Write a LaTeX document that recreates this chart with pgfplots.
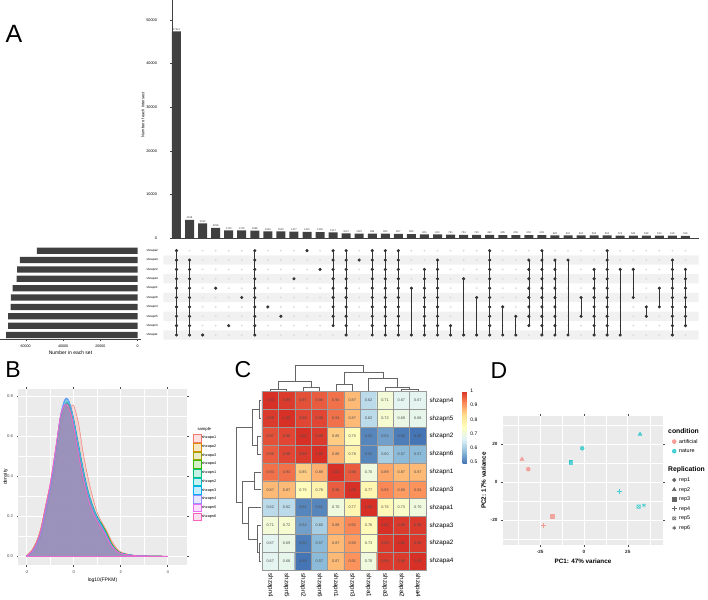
\documentclass[border=0pt]{standalone}
\usepackage{fontspec}
\setmainfont{Liberation Sans}
\usepackage{pgfplots}
\pgfplotsset{compat=1.18}
\usepackage{pgfplotstable}
\pgfkeys{/pgf/number format/assume math mode=true}
\newcommand\fs[1]{\fontsize{#1}{#1}\selectfont}
\definecolor{barc}{HTML}{404040}
\definecolor{ggbg}{HTML}{EBEBEB}
\definecolor{band}{HTML}{F1F1F1}
\definecolor{inact}{HTML}{DDDDDD}
\definecolor{c1}{HTML}{F8766D}
\definecolor{c2}{HTML}{D89000}
\definecolor{c3}{HTML}{A3A500}
\definecolor{c4}{HTML}{39B600}
\definecolor{c5}{HTML}{00BF7D}
\definecolor{c6}{HTML}{00BFC4}
\definecolor{c7}{HTML}{00B0F6}
\definecolor{c8}{HTML}{9590FF}
\definecolor{c9}{HTML}{E76BF3}
\definecolor{c10}{HTML}{FF62BC}
\definecolor{cn}{HTML}{00BFC4}
\pgfdeclareplotmark{boxx}{%
  \pgfpathrectangle{\pgfqpoint{-\pgfplotmarksize}{-\pgfplotmarksize}}{\pgfqpoint{2\pgfplotmarksize}{2\pgfplotmarksize}}%
  \pgfpathmoveto{\pgfqpoint{-\pgfplotmarksize}{-\pgfplotmarksize}}\pgfpathlineto{\pgfqpoint{\pgfplotmarksize}{\pgfplotmarksize}}%
  \pgfpathmoveto{\pgfqpoint{-\pgfplotmarksize}{\pgfplotmarksize}}\pgfpathlineto{\pgfqpoint{\pgfplotmarksize}{-\pgfplotmarksize}}%
  \pgfusepathqstroke}
\pgfplotsset{dens/.style={smooth, draw=#1, fill=#1, fill opacity=0.22, line width=0.45pt}}

\pgfplotstableread{
x a1 a2 a3 a4 n1 n2 n3 n4 n5 n6
-2.0 0.000 0.004 0.003 0.003 0.002 0.002 0.002 0.002 0.003 0.004
-1.8 0.012 0.028 0.024 0.022 0.018 0.016 0.016 0.017 0.022 0.026
-1.6 0.045 0.070 0.064 0.060 0.055 0.050 0.050 0.052 0.062 0.068
-1.4 0.100 0.140 0.132 0.126 0.118 0.112 0.112 0.115 0.130 0.138
-1.2 0.200 0.250 0.242 0.236 0.228 0.222 0.222 0.226 0.245 0.252
-1.0 0.310 0.360 0.352 0.346 0.340 0.338 0.340 0.344 0.362 0.368
-0.8 0.440 0.510 0.502 0.497 0.492 0.495 0.498 0.502 0.515 0.518
-0.6 0.610 0.670 0.665 0.662 0.660 0.670 0.675 0.680 0.680 0.678
-0.5 0.670 0.720 0.717 0.716 0.716 0.730 0.735 0.740 0.730 0.725
-0.4 0.720 0.750 0.750 0.752 0.755 0.772 0.776 0.780 0.758 0.752
-0.3 0.745 0.760 0.762 0.766 0.772 0.788 0.790 0.792 0.762 0.757
-0.2 0.745 0.745 0.750 0.756 0.764 0.775 0.776 0.776 0.745 0.740
-0.1 0.750 0.710 0.716 0.724 0.734 0.738 0.738 0.736 0.705 0.700
0.0 0.755 0.660 0.668 0.676 0.688 0.684 0.682 0.678 0.650 0.645
0.2 0.670 0.530 0.540 0.550 0.566 0.560 0.556 0.550 0.515 0.510
0.4 0.520 0.410 0.418 0.428 0.442 0.438 0.434 0.428 0.395 0.390
0.6 0.400 0.310 0.316 0.324 0.336 0.330 0.326 0.322 0.296 0.292
0.8 0.300 0.240 0.244 0.250 0.258 0.254 0.250 0.246 0.226 0.222
1.0 0.220 0.190 0.192 0.196 0.200 0.196 0.193 0.190 0.175 0.172
1.2 0.170 0.160 0.160 0.160 0.160 0.155 0.152 0.150 0.138 0.136
1.4 0.130 0.120 0.118 0.116 0.114 0.110 0.108 0.106 0.096 0.095
1.6 0.080 0.070 0.068 0.066 0.064 0.062 0.060 0.058 0.054 0.053
1.8 0.045 0.036 0.035 0.034 0.033 0.032 0.031 0.030 0.028 0.028
2.0 0.022 0.018 0.017 0.017 0.016 0.016 0.016 0.015 0.014 0.014
2.5 0.006 0.005 0.005 0.005 0.005 0.006 0.006 0.006 0.004 0.004
3.0 0.002 0.002 0.002 0.002 0.002 0.002 0.002 0.002 0.002 0.002
4.0 0.000 0.000 0.000 0.000 0.000 0.000 0.000 0.000 0.000 0.001
}\dens

\pgfplotstableread{
x y z
1 1 1.00
2 1 0.99
3 1 0.97
4 1 0.96
5 1 0.94
6 1 0.87
7 1 0.62
8 1 0.71
9 1 0.67
10 1 0.67
1 2 0.99
2 2 1.00
3 2 0.98
4 2 0.98
5 2 0.94
6 2 0.87
7 2 0.62
8 2 0.72
9 2 0.69
10 2 0.68
1 3 0.97
2 3 0.98
3 3 1.00
4 3 0.99
5 3 0.85
6 3 0.75
7 3 0.51
8 3 0.54
9 3 0.50
10 3 0.49
1 4 0.96
2 4 0.98
3 4 0.99
4 4 1.00
5 4 0.88
6 4 0.78
7 4 0.51
8 4 0.60
9 4 0.57
10 4 0.57
1 5 0.94
2 5 0.94
3 5 0.85
4 5 0.88
5 5 1.00
6 5 0.96
7 5 0.70
8 5 0.89
9 5 0.87
10 5 0.87
1 6 0.87
2 6 0.87
3 6 0.75
4 6 0.78
5 6 0.96
6 6 1.00
7 6 0.77
8 6 0.92
9 6 0.90
10 6 0.91
1 7 0.62
2 7 0.62
3 7 0.51
4 7 0.51
5 7 0.70
6 7 0.77
7 7 1.00
8 7 0.76
9 7 0.73
10 7 0.70
1 8 0.71
2 8 0.72
3 8 0.54
4 8 0.60
5 8 0.89
6 8 0.92
7 8 0.76
8 8 1.00
9 8 0.99
10 8 0.99
1 9 0.67
2 9 0.69
3 9 0.50
4 9 0.57
5 9 0.87
6 9 0.90
7 9 0.73
8 9 0.99
9 9 1.00
10 9 0.99
1 10 0.67
2 10 0.68
3 10 0.49
4 10 0.57
5 10 0.87
6 10 0.91
7 10 0.70
8 10 0.99
9 10 0.99
10 10 1.00
}\hm

\pgfplotstableread{
p h
1 0
1 1.7
2 1.7
2 0
nan nan
3 0
3 3.7
4 3.7
4 0
nan nan
1.5 1.7
1.5 9
3.5 9
3.5 3.7
nan nan
5 0
5 6.7
6 6.7
6 0
nan nan
9 0
9 1.7
10 1.7
10 0
nan nan
8 0
8 3.7
9.5 3.7
9.5 1.7
nan nan
7 0
7 12.4
8.75 12.4
8.75 3.7
nan nan
5.5 6.7
5.5 18.4
7.875 18.4
7.875 12.4
nan nan
2.5 9
2.5 25
6.6875 25
6.6875 18.4
}\dendro

\begin{document}
\begin{tikzpicture}
\path[use as bounding box] (0pt,0pt) rectangle (708pt,-599pt);

% ---------- A: intersection sizes ----------
\begin{axis}[at={(172.45pt,-238pt)}, anchor=south west, scale only axis,
  width=526.05pt, height=238pt, xmin=0.69, xmax=41, ymin=0, ymax=54590,
  axis x line=bottom, axis y line=left, axis line style={-, line width=0.5pt, black!75},
  xtick=\empty, ytick={0,10000,20000,30000,40000,50000}, scaled y ticks=false,
  /pgf/number format/1000 sep={},
  yticklabel style={font=\fs{3.8}, xshift=-10pt},
  tick align=outside, major tick length=2pt, tick style={black!75, line width=0.4pt},
  ylabel={Number of each Intersect},
  ylabel style={font=\fs{4}, at={(axis description cs:-0.056,0.517)}, anchor=center},
  ybar, bar width=9pt, clip=false,
  nodes near coords, nodes near coords style={font=\fs{2.6}, text=black!80, inner sep=1pt}]
\addplot[fill=barc, draw=none] coordinates {
(1,47421)(2,4156)(3,3332)(4,2298)(5,1733)(6,1729)(7,1698)(8,1526)(9,1500)(10,1477)
(11,1421)(12,1363)(13,1317)(14,1047)(15,1022)(16,986)(17,980)(18,967)(19,895)(20,825)
(21,813)(22,791)(23,734)(24,732)(25,692)(26,685)(27,655)(28,652)(29,639)(30,629)
(31,601)(32,600)(33,592)(34,592)(35,572)(36,560)(37,538)(38,530)(39,518)(40,516)};
\end{axis}

% ---------- A: matrix ----------
\begin{axis}[at={(163.45pt,-246pt)}, anchor=north west, scale only axis,
  width=535.05pt, height=93.7pt, xmin=0, xmax=41, ymin=0.5, ymax=10.5, y dir=reverse,
  axis line style={draw=none}, xtick=\empty, ytick={1,2,3,4,5,6,7,8,9,10},
  yticklabels={shzapa2,shzapa3,shzapn2,shzapa4,shzapn1,shzapn6,shzapn4,shzapn5,shzapn3,shzapa1},
  major tick length=0pt, yticklabel style={font=\fs{3}, xshift=-2pt},
  clip=false, unbounded coords=jump]
\addplot[xbar, bar width=9.37pt, fill=band, draw=none] coordinates {(41,2)(41,4)(41,6)(41,8)(41,10)};
\addplot[inact, line width=2.2pt, line cap=round, dash pattern=on 0pt off 13.05pt] coordinates {
(1,1)(40.05,1)(1,nan)(1,2)(40.05,2)(1,nan)(1,3)(40.05,3)(1,nan)(1,4)(40.05,4)(1,nan)(1,5)(40.05,5)(1,nan)
(1,6)(40.05,6)(1,nan)(1,7)(40.05,7)(1,nan)(1,8)(40.05,8)(1,nan)(1,9)(40.05,9)(1,nan)(1,10)(40.05,10)};
\addplot[black!80, line width=0.7pt, mark=*, mark size=1.2pt, mark options={fill=black!80, draw=black!80}] coordinates {
(1,1)(1,2)(1,3)(1,4)(1,5)(1,6)(1,7)(1,8)(1,9)(1,10)(1,nan)
(2,2)(2,3)(2,4)(2,5)(2,6)(2,7)(2,8)(2,9)(2,10)(2,nan)
(3,10)(3,nan)(4,5)(4,nan)(5,9)(5,nan)(6,6)(6,nan)
(7,1)(7,2)(7,3)(7,4)(7,5)(7,6)(7,7)(7,8)(7,9)(7,10)(7,nan)
(8,7)(8,nan)(9,8)(9,nan)(10,4)(10,nan)(11,1)(11,nan)(12,3)(12,nan)
(13,1)(13,2)(13,3)(13,4)(13,5)(13,6)(13,7)(13,8)(13,9)(13,nan)
(14,1)(14,2)(14,3)(14,4)(14,5)(14,6)(14,7)(14,8)(14,9)(14,10)(14,nan)
(15,2)(15,nan)
(16,1)(16,2)(16,3)(16,4)(16,5)(16,6)(16,7)(16,8)(16,9)(16,10)(16,nan)
(17,1)(17,2)(17,3)(17,4)(17,5)(17,6)(17,7)(17,8)(17,9)(17,10)(17,nan)
(18,1)(18,2)(18,3)(18,4)(18,5)(18,6)(18,7)(18,8)(18,9)(18,10)(18,nan)
(19,5)(19,10)(19,nan)
(20,3)(20,4)(20,5)(20,6)(20,7)(20,8)(20,9)(20,10)(20,nan)
(21,2)(21,3)(21,4)(21,5)(21,6)(21,7)(21,8)(21,9)(21,10)(21,nan)
(22,9)(22,10)(22,nan)(23,4)(23,10)(23,nan)(24,6)(24,10)(24,nan)
(25,1)(25,2)(25,3)(25,4)(25,5)(25,6)(25,7)(25,8)(25,9)(25,10)(25,nan)
(26,7)(26,10)(26,nan)(27,8)(27,10)(27,nan)
(28,2)(28,3)(28,4)(28,5)(28,6)(28,7)(28,8)(28,9)(28,nan)
(29,1)(29,2)(29,3)(29,4)(29,5)(29,6)(29,7)(29,8)(29,9)(29,10)(29,nan)
(30,2)(30,3)(30,4)(30,5)(30,6)(30,7)(30,8)(30,9)(30,10)(30,nan)
(31,2)(31,10)(31,nan)(32,6)(32,8)(32,nan)
(33,3)(33,4)(33,5)(33,6)(33,7)(33,8)(33,9)(33,10)(33,nan)
(34,1)(34,2)(34,3)(34,4)(34,5)(34,6)(34,7)(34,8)(34,9)(34,10)(34,nan)
(35,3)(35,10)(35,nan)(36,3)(36,6)(36,nan)(37,7)(37,8)(37,nan)(38,5)(38,7)(38,nan)
(39,2)(39,3)(39,4)(39,5)(39,6)(39,7)(39,8)(39,9)(39,10)(39,nan)
(40,3)(40,4)(40,5)(40,6)(40,7)(40,8)(40,9)};
\end{axis}

% ---------- A: set sizes ----------
\begin{axis}[at={(0pt,-246pt)}, anchor=north west, scale only axis,
  width=141pt, height=93.7pt, xmin=-1768, xmax=73780, x dir=reverse,
  ymin=0.5, ymax=10.5, y dir=reverse,
  axis x line=bottom, axis y line=none, axis line style={-, line width=0.5pt, black!75},
  ytick=\empty, xtick={0,20000,40000,60000}, scaled x ticks=false,
  /pgf/number format/1000 sep={},
  xticklabel style={font=\fs{3.6}}, tick align=outside, major tick length=1.5pt,
  tick style={black!75, line width=0.4pt},
  xlabel={Number in each set}, xlabel style={font=\fs{5}, yshift=3pt}]
\addplot[xbar, bar width=6.3pt, fill=barc, draw=none] coordinates {
(54000,1)(63100,2)(64550,3)(64900,4)(67000,5)(67900,6)(68100,7)(69400,8)(69400,9)(70450,10)};
\end{axis}

% ---------- B: density ----------
\begin{axis}[at={(18.3pt,-389pt)}, anchor=north west, scale only axis,
  width=168.4pt, height=176pt, xmin=-2.357, xmax=4.81, ymin=-0.0435, ymax=0.8365,
  axis background/.style={fill=ggbg}, grid=both,
  xtick={-2,0,2,4}, ytick={0,0.2,0.4,0.6,0.8}, minor xtick={-1,1,3}, minor ytick={0.1,0.3,0.5,0.7},
  major grid style={white, line width=0.6pt}, minor grid style={white, line width=0.3pt},
  axis line style={draw=none}, tick align=outside, major tick length=1.8pt, minor tick length=0pt,
  tick style={black!70, line width=0.4pt},
  ticklabel style={font=\fs{4.2}, text=black!70},
  yticklabel style={/pgf/number format/.cd, fixed, fixed zerofill, precision=1},
  xlabel={log10(FPKM)}, ylabel={density}, label style={font=\fs{5}},
  xlabel style={yshift=2pt},
  ylabel style={at={(axis description cs:-0.075,0.5)}, anchor=center},
  legend style={at={(1.037,0.744)}, anchor=north west, draw=none, fill=none,
    font=\fs{3.8}, row sep=0.7pt, inner sep=0pt, nodes={inner sep=0.5pt}},
  legend cell align=left,
  legend image code/.code={\draw[#1, line width=0.4pt] (0pt,-3.8pt) rectangle (7.8pt,3.8pt);}]
\addplot[dens=c1] table[x=x,y=a1]{\dens} \closedcycle; \addlegendentry{shzapa1}
\addplot[dens=c2] table[x=x,y=a2]{\dens} \closedcycle; \addlegendentry{shzapa2}
\addplot[dens=c3] table[x=x,y=a3]{\dens} \closedcycle; \addlegendentry{shzapa3}
\addplot[dens=c4] table[x=x,y=a4]{\dens} \closedcycle; \addlegendentry{shzapa4}
\addplot[dens=c5] table[x=x,y=n1]{\dens} \closedcycle; \addlegendentry{shzapn1}
\addplot[dens=c6] table[x=x,y=n2]{\dens} \closedcycle; \addlegendentry{shzapn2}
\addplot[dens=c7] table[x=x,y=n3]{\dens} \closedcycle; \addlegendentry{shzapn3}
\addplot[dens=c8] table[x=x,y=n4]{\dens} \closedcycle; \addlegendentry{shzapn4}
\addplot[dens=c9] table[x=x,y=n5]{\dens} \closedcycle; \addlegendentry{shzapn5}
\addplot[dens=c10] table[x=x,y=n6]{\dens} \closedcycle; \addlegendentry{shzapn6}
\end{axis}
\node[font=\fs{4.2}, anchor=west] at (194pt,-429pt) {sample};

% ---------- C: heatmap ----------
\begin{axis}[at={(262pt,-391.7pt)}, anchor=north west, scale only axis,
  width=164pt, height=178.3pt, xmin=0.5, xmax=10.5, ymin=0.5, ymax=10.5, y dir=reverse,
  colormap={rdylbu}{rgb255=(69,117,180) rgb255=(145,191,219) rgb255=(224,243,248) rgb255=(255,255,191) rgb255=(254,224,144) rgb255=(252,141,89) rgb255=(215,48,39)},
  point meta min=0.49, point meta max=1,
  xtick={1,2,3,4,5,6,7,8,9,10}, ytick={1,2,3,4,5,6,7,8,9,10},
  xticklabels={shzapn4,shzapn5,shzapn2,shzapn6,shzapn1,shzapn3,shzapa1,shzapa3,shzapa2,shzapa4},
  yticklabels={shzapn4,shzapn5,shzapn2,shzapn6,shzapn1,shzapn3,shzapa1,shzapa3,shzapa2,shzapa4},
  yticklabel pos=right, major tick length=0pt, minor tick length=0pt,
  minor xtick={1.5,2.5,3.5,4.5,5.5,6.5,7.5,8.5,9.5}, minor ytick={1.5,2.5,3.5,4.5,5.5,6.5,7.5,8.5,9.5},
  grid=minor, minor grid style={black!40, line width=0.5pt},
  axis line style={black!40, line width=0.5pt}, axis on top,
  xticklabel style={rotate=-90, anchor=west, font=\fs{6.3}, xshift=0pt},
  yticklabel style={font=\fs{6.3}, anchor=west},
  colorbar,
  colorbar style={at={(parent axis.north east)}, anchor=north west, xshift=28pt, yshift=0.7pt,
    width=4.3pt, height=72.3pt, ytick={0.5,0.6,0.7,0.8,0.9,1},
    yticklabel style={font=\fs{5}}, axis line style={draw=none}, major tick length=0pt},
  clip=false]
\addplot[matrix plot*, mesh/cols=10, point meta=explicit,
  nodes near coords={\pgfmathprintnumber[fixed,fixed zerofill,precision=2]{\pgfplotspointmeta}},
  nodes near coords align=center,
  every node near coord/.append style={font=\fs{3.8}, text=black!70}] table[x=x,y=y,meta=z]{\hm};
\end{axis}
\begin{axis}[at={(262pt,-390.7pt)}, anchor=south west, scale only axis, width=164pt, height=30pt,
  xmin=0.5, xmax=10.5, ymin=0, ymax=30, hide axis, clip=false, unbounded coords=jump]
\addplot[black!60, line width=0.6pt] table[x=p,y=h]{\dendro};
\end{axis}
\begin{axis}[at={(261pt,-391.7pt)}, anchor=north east, scale only axis, width=30pt, height=178.3pt,
  xmin=0, xmax=30, x dir=reverse, ymin=0.5, ymax=10.5, y dir=reverse, hide axis, clip=false, unbounded coords=jump]
\addplot[black!60, line width=0.6pt] table[x=h,y=p]{\dendro};
\end{axis}

% ---------- D: PCA ----------
\begin{axis}[at={(502.7pt,-416pt)}, anchor=north west, scale only axis,
  width=160.6pt, height=129pt, xmin=-46.4, xmax=45.3, ymin=-33.2, ymax=34.7,
  axis background/.style={fill=ggbg}, grid=both,
  xtick={-25,0,25}, ytick={-20,0,20}, minor xtick={-37.5,-12.5,12.5,37.5}, minor ytick={-30,-10,10,30},
  major grid style={white, line width=0.6pt}, minor grid style={white, line width=0.3pt},
  axis line style={draw=none}, tick align=outside, major tick length=1.8pt, minor tick length=0pt,
  tick style={black!70, line width=0.4pt},
  ticklabel style={font=\fs{4.6}\bfseries, text=black!85},
  xlabel={PC1: 47\% variance}, ylabel={PC2: 17\% variance},
  label style={font=\fs{6.3}\bfseries},
  xlabel style={yshift=2pt}, ylabel style={yshift=-2pt},
  legend style={at={(1.045,0.905)}, anchor=north west, draw=none, fill=none,
    font=\fs{5.4}, row sep=2.6pt, inner sep=0pt, nodes={inner sep=0.5pt, text height=4.6pt, text depth=1.4pt}},
  legend cell align=left,
  legend image code/.code={\path[draw=none, fill=none] (0pt,-2pt) -- (8pt,2pt); \draw[#1] plot coordinates {(3.5pt,0pt)};}]
\addplot[forget plot, only marks, mark=*, mark size=2pt, c1, opacity=0.6] coordinates {(-31.8,6.7)};
\addplot[forget plot, only marks, mark=triangle*, mark size=2.4pt, c1, opacity=0.6] coordinates {(-35.4,11.9)};
\addplot[forget plot, only marks, mark=square*, mark size=1.7pt, c1, opacity=0.6] coordinates {(-18.1,-18.1)};
\addplot[forget plot, only marks, mark=+, mark size=2.6pt, line width=0.6pt, c1, opacity=0.7] coordinates {(-23.2,-23.0)};
\addplot[forget plot, only marks, mark=*, mark size=2pt, cn, opacity=0.6] coordinates {(-1.0,17.7)};
\addplot[forget plot, only marks, mark=triangle*, mark size=2.4pt, cn, opacity=0.6] coordinates {(32.0,25.1)};
\addplot[forget plot, only marks, mark=square*, mark size=1.7pt, cn, opacity=0.6] coordinates {(-7.6,10.4)};
\addplot[forget plot, only marks, mark=+, mark size=2.6pt, line width=0.6pt, cn, opacity=0.7] coordinates {(20.2,-4.9)};
\addplot[forget plot, only marks, mark=boxx, mark size=1.7pt, line width=0.5pt, cn, opacity=0.7] coordinates {(31.2,-13.0)};
\addplot[forget plot, only marks, mark=asterisk, mark size=2pt, line width=0.6pt, cn, opacity=0.7] coordinates {(34.2,-12.3)};
\addlegendimage{empty legend}\addlegendentry{\hspace*{-11pt}\fs{6.8}\bfseries condition}
\addlegendimage{only marks, mark=*, mark size=2pt, c1, opacity=0.7}\addlegendentry{artificial}
\addlegendimage{only marks, mark=*, mark size=2pt, cn, opacity=0.7}\addlegendentry{nature}
\addlegendimage{empty legend}\addlegendentry{~}
\addlegendimage{empty legend}\addlegendentry{\hspace*{-11pt}\fs{6.8}\bfseries Replication}
\addlegendimage{only marks, mark=*, mark size=1.8pt, black!60}\addlegendentry{rep1}
\addlegendimage{only marks, mark=triangle*, mark size=2.2pt, black!60}\addlegendentry{rep2}
\addlegendimage{only marks, mark=square*, mark size=1.6pt, black!60}\addlegendentry{rep3}
\addlegendimage{only marks, mark=+, mark size=2.3pt, line width=0.6pt, black!60}\addlegendentry{rep4}
\addlegendimage{only marks, mark=boxx, mark size=1.6pt, line width=0.5pt, black!60}\addlegendentry{rep5}
\addlegendimage{only marks, mark=asterisk, mark size=2pt, line width=0.6pt, black!60}\addlegendentry{rep6}
\end{axis}

% ---------- panel letters ----------
\node[font=\fs{25}] at (14pt,-34pt) {A};
\node[font=\fs{23}] at (13pt,-370pt) {B};
\node[font=\fs{23}] at (243pt,-370pt) {C};
\node[font=\fs{23}] at (499pt,-371pt) {D};
\end{tikzpicture}
\end{document}
